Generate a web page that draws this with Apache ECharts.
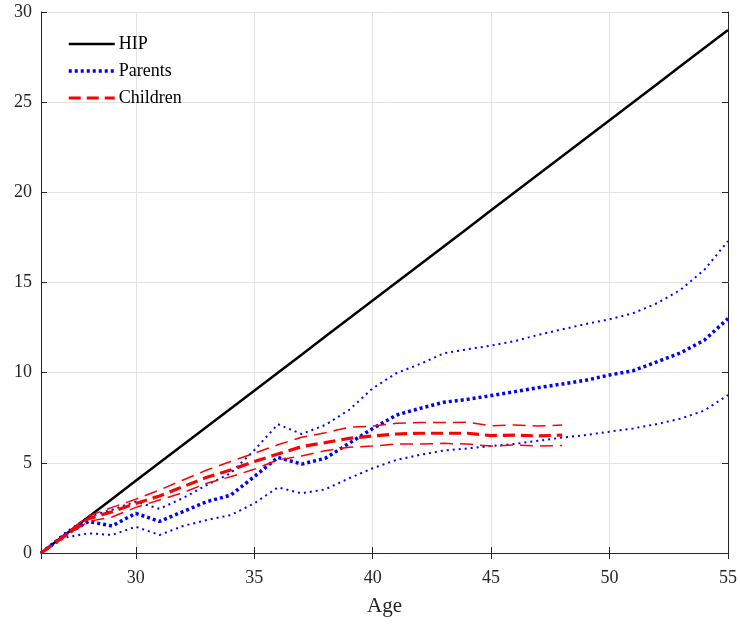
<!DOCTYPE html>
<html>
<head>
<meta charset="utf-8">
<script src="https://cdn.jsdelivr.net/npm/echarts@6/dist/echarts.min.js"></script>
<style>
html,body{margin:0;padding:0;background:#fff;}
#chart{width:740px;height:625px;}
</style>
</head>
<body>
<div id="chart"></div>
<script>
// ---- data ----
var ages = [26,27,28,29,30,31,32,33,34,35,36,37,38,39,40,41,42,43,44,45,46,47,48,49,50,51,52,53,54,55];
var hip = [0,1,2,3,4,5,6,7,8,9,10,11,12,13,14,15,16,17,18,19,20,21,22,23,24,25,26,27,28,29];
var parentsMid = [0,1.0,1.75,1.5,2.2,1.75,2.3,2.85,3.2,4.23,5.3,4.93,5.25,6.08,6.9,7.65,8.02,8.36,8.52,8.73,8.95,9.17,9.37,9.58,9.87,10.11,10.6,11.1,11.8,13.0];
var parentsUp = [0,1.1,2.0,2.4,2.85,2.45,3.05,3.77,4.42,5.7,7.14,6.6,7.1,7.93,9.13,9.97,10.48,11.07,11.3,11.5,11.75,12.1,12.4,12.7,12.96,13.3,13.85,14.6,15.7,17.3];
var parentsLow = [0,0.85,1.09,1.0,1.46,1.0,1.5,1.83,2.1,2.75,3.64,3.31,3.53,4.14,4.7,5.16,5.44,5.68,5.8,5.93,6.05,6.23,6.4,6.54,6.73,6.91,7.15,7.45,7.9,8.76];
var childAges = [26,27,28,29,30,31,32,33,34,35,36,37,38,39,40,41,42,43,44,45,46,47,48];
var childMid = [0,0.95,1.9,2.29,2.75,3.16,3.68,4.2,4.6,5.07,5.49,5.9,6.12,6.36,6.49,6.6,6.64,6.64,6.64,6.51,6.54,6.49,6.54];
var childUp = [0,1.0,2.05,2.53,2.98,3.49,4.05,4.6,5.07,5.53,6.0,6.42,6.67,6.97,7.04,7.19,7.23,7.23,7.25,7.06,7.1,7.04,7.1];
var childLow = [0,0.9,1.75,2.0,2.53,2.94,3.35,3.87,4.23,4.64,5.16,5.38,5.67,5.86,5.93,6.04,6.04,6.08,6.04,5.93,5.99,5.93,5.96];
var legendNames = ['HIP','Parents','Children'];

function pairs(xs, ys){ return xs.map(function(x,i){ return [x, ys[i]]; }); }

var FONT = 'Liberation Serif';
var AX = '#262626';

var chart = echarts.init(document.getElementById('chart'), null, {renderer:'canvas'});
function line(name, xs, ys, color, width, type, z){
  return {
    name: name, type: 'line', data: pairs(xs, ys),
    showSymbol: false, symbol: 'none', animation: false, z: z,
    lineStyle: {color: color, width: width, type: type, cap: 'butt'},
    itemStyle: {color: color}
  };
}
chart.setOption({
  backgroundColor: '#fff',
  animation: false,
  grid: {left: 41, right: 12, top: 12, bottom: 72, containLabel: false},
  legend: {
    data: legendNames, orient: 'vertical', left: 62, top: 30,
    itemWidth: 46, itemHeight: 14, itemGap: 9,
    itemStyle: {opacity: 0},
    lineStyle: {width: 'inherit'},
    textStyle: {fontFamily: FONT, fontSize: 18, color: '#000', padding: [0,0,0,-1]}
  },
  xAxis: [{
    type: 'value', min: 26, max: 55, position: 'bottom',
    name: 'Age', nameLocation: 'middle', nameGap: 43,
    nameTextStyle: {fontFamily: FONT, fontSize: 21, color: '#262626'},
    axisLine: {show: true, lineStyle: {color: AX, width: 1}},
    axisTick: {show: true, inside: true, length: 6, lineStyle: {color: AX}},
    axisLabel: {fontFamily: FONT, fontSize: 18, color: '#262626', margin: 16, showMinLabel: false},
    splitLine: {show: true, lineStyle: {color: '#e3e3e3', width: 1}}
  },{
    type: 'value', min: 26, max: 55, position: 'top',
    axisLine: {show: true, lineStyle: {color: AX, width: 1}},
    axisTick: {show: true, inside: true, length: 6, lineStyle: {color: AX}},
    axisLabel: {show: false}, splitLine: {show: false}
  }],
  yAxis: [{
    type: 'value', min: 0, max: 30, interval: 5, position: 'left',
    axisLine: {show: true, lineStyle: {color: AX, width: 1}},
    axisTick: {show: true, inside: true, length: 6, lineStyle: {color: AX}},
    axisLabel: {fontFamily: FONT, fontSize: 18, color: '#262626', margin: 9},
    splitLine: {show: true, lineStyle: {color: '#e3e3e3', width: 1}}
  },{
    type: 'value', min: 0, max: 30, interval: 5, position: 'right',
    axisLine: {show: true, lineStyle: {color: AX, width: 1}},
    axisTick: {show: true, inside: true, length: 6, lineStyle: {color: AX}},
    axisLabel: {show: false}, splitLine: {show: false}
  }],
  series: [
    line('HIP', ages, hip, '#000000', 2.5, 'solid', 3),
    line('Parents', ages, parentsMid, '#0000ff', 3.5, [3,3], 4),
    line('Parents upper', ages, parentsUp, '#0000ff', 2, [2,4], 4),
    line('Parents lower', ages, parentsLow, '#0000ff', 2, [2,4], 4),
    line('Children', childAges, childMid, '#ff0000', 3.2, [12,6], 5),
    line('Children upper', childAges, childUp, '#ff0000', 1.5, [13,7], 5),
    line('Children lower', childAges, childLow, '#ff0000', 1.5, [13,7], 5)
  ]
});
</script>
</body>
</html>
